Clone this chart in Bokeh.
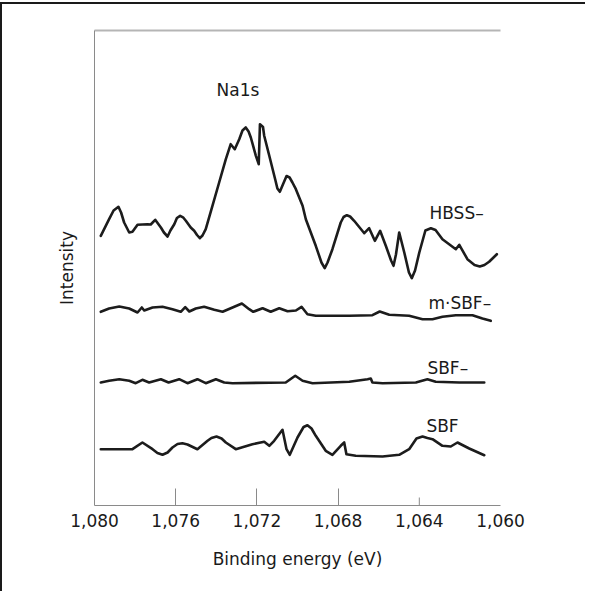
from bokeh.plotting import figure
from bokeh.models import Range1d, FixedTicker, NumeralTickFormatter, LinearAxis
from bokeh.core.properties import value
from bokeh.embed import file_html
from bokeh.resources import INLINE

# Binding energy (eV) and intensity (arbitrary units)
hbss_x = [1079.69, 1079.28, 1079.06, 1078.82, 1078.69, 1078.54, 1078.29, 1078.13, 1077.88, 1077.39,
          1077.23, 1077.01, 1076.73, 1076.58, 1076.40, 1076.26, 1076.07, 1075.94, 1075.78, 1075.64,
          1075.50, 1075.26, 1075.09, 1074.95, 1074.81, 1074.68, 1074.52, 1074.19, 1073.86, 1073.53,
          1073.29, 1073.09, 1072.87, 1072.71, 1072.55, 1072.41, 1072.30, 1072.05, 1071.91, 1071.85,
          1071.70, 1071.64, 1071.39, 1071.10, 1070.99, 1070.87, 1070.74, 1070.54, 1070.39, 1070.25,
          1070.08, 1069.75, 1069.59, 1069.10, 1068.82, 1068.66, 1068.52, 1068.28, 1067.87, 1067.73,
          1067.57, 1067.41, 1067.21, 1066.71, 1066.47, 1066.19, 1065.93, 1065.65, 1065.39, 1065.27,
          1065.15, 1064.99, 1064.74, 1064.51, 1064.37, 1064.21, 1064.00, 1063.70, 1063.43, 1063.20,
          1062.86, 1062.20, 1062.03, 1061.63, 1061.28, 1061.02, 1060.79, 1060.56, 1060.18]
hbss_y = [269.7, 286.3, 295.0, 298.7, 293.0, 283.0, 273.0, 273.7, 280.7, 281.3,
          281.0, 285.7, 278.0, 273.0, 269.0, 275.0, 281.3, 287.5, 289.7, 288.2,
          284.7, 278.0, 274.7, 270.5, 267.3, 270.0, 276.3, 299.7, 323.0, 346.3,
          361.3, 356.3, 366.3, 375.0, 378.0, 374.0, 368.0, 349.7, 341.3, 381.3,
          378.5, 369.7, 349.7, 326.3, 317.0, 313.7, 320.0, 329.5, 328.0, 323.0,
          316.3, 299.7, 286.3, 259.7, 243.0, 237.3, 243.0, 256.3, 283.0, 288.5,
          290.3, 289.0, 284.7, 272.3, 277.3, 264.7, 274.7, 259.7, 245.0, 239.7,
          251.0, 273.0, 253.0, 233.0, 227.3, 235.0, 253.0, 275.0, 277.3, 275.5,
          266.3, 256.3, 260.7, 246.3, 240.5, 239.0, 240.5, 243.7, 251.3]

msbf_x = [1079.69, 1079.28, 1078.78, 1078.29, 1077.88, 1077.67, 1077.55, 1077.14, 1076.65, 1076.16,
          1075.75, 1075.53, 1075.33, 1075.01, 1074.60, 1074.10, 1073.69, 1073.20, 1072.74, 1072.38,
          1072.18, 1071.72, 1071.32, 1070.90, 1070.49, 1070.08, 1069.80, 1069.51, 1069.10, 1067.45,
          1066.31, 1065.95, 1065.48, 1064.50, 1063.84, 1063.35, 1062.86, 1062.20, 1061.38, 1060.89,
          1060.48]
msbf_y = [193.7, 197.0, 199.0, 197.0, 193.0, 198.0, 195.0, 198.0, 198.7, 196.3,
          193.7, 198.3, 194.0, 197.0, 198.7, 195.7, 193.7, 198.0, 202.0, 196.3,
          193.7, 197.3, 193.7, 197.3, 194.3, 195.0, 198.7, 191.3, 189.7, 189.7,
          190.3, 194.0, 190.7, 189.7, 186.3, 186.3, 188.7, 190.3, 190.3, 187.0,
          184.7]

sbfm_x = [1079.69, 1079.28, 1078.78, 1078.29, 1077.97, 1077.64, 1077.31, 1076.73, 1076.35, 1075.83,
          1075.42, 1074.93, 1074.52, 1074.02, 1073.61, 1073.20, 1070.58, 1070.11, 1069.75, 1069.26,
          1067.45, 1066.55, 1066.39, 1066.31, 1065.81, 1064.17, 1063.60, 1063.19, 1062.03, 1060.80]
sbfm_y = [123.0, 124.7, 126.3, 124.7, 122.3, 125.7, 123.0, 126.3, 123.0, 126.3,
          122.3, 126.3, 122.3, 126.3, 123.0, 122.3, 123.0, 129.7, 124.7, 122.3,
          123.7, 126.3, 127.0, 123.0, 122.3, 123.0, 126.3, 123.7, 123.0, 123.0]

sbf_x = [1079.69, 1078.13, 1077.64, 1077.14, 1076.90, 1076.65, 1076.40, 1076.16, 1075.91, 1075.67,
         1075.42, 1074.93, 1074.43, 1074.24, 1073.99, 1073.74, 1073.53, 1073.04, 1072.22, 1071.64,
         1071.39, 1071.15, 1070.74, 1070.54, 1070.38, 1070.00, 1069.70, 1069.51, 1069.31, 1069.10,
         1068.61, 1068.28, 1067.87, 1067.70, 1067.59, 1067.13, 1065.81, 1064.99, 1064.50, 1064.14,
         1063.84, 1063.60, 1063.35, 1062.86, 1062.45, 1062.12, 1061.54, 1060.80]
sbf_y = [56.3, 56.3, 63.0, 56.3, 52.5, 50.7, 53.0, 58.0, 61.5, 62.3,
         61.0, 56.3, 64.7, 67.5, 69.0, 67.0, 63.0, 56.3, 61.3, 63.7,
         59.7, 64.7, 75.7, 56.3, 50.7, 68.0, 78.5, 80.3, 77.0, 69.7,
         54.7, 50.7, 59.7, 63.0, 51.3, 49.7, 49.0, 50.7, 56.3, 67.0,
         69.0, 67.5, 66.3, 59.7, 59.0, 63.0, 57.0, 50.3]

label_text = ["HBSS\u2013", "m\u00b7SBF\u2013", "SBF\u2013", "SBF", "Na1s"]
label_x = [1063.50, 1063.55, 1063.60, 1063.65, 1073.99]
label_y = [293, 203, 138, 80, 416]

tick_vals = [1080, 1076, 1072, 1068, 1064, 1060]

FONT = "DejaVu Sans"
AXC = "#8a8a8a"
INK = "#1c1c1c"

p = figure(width=585, height=589, output_backend="svg", toolbar_location=None,
           x_range=Range1d(1080, 1060), y_range=Range1d(0, 475),
           min_border_left=92, min_border_right=87, min_border_top=26, min_border_bottom=88)
p.styles = {"border-left": "2px solid #1a1a1a", "border-top": "2px solid #1a1a1a", "margin-top": "2px"}
p.outline_line_color = None
p.grid.visible = False
p.background_fill_color = "white"
p.border_fill_color = "white"

xa = p.xaxis[0]
xa.ticker = FixedTicker(ticks=tick_vals, minor_ticks=[1076, 1072, 1068])
xa.formatter = NumeralTickFormatter(format="0,0")
xa.axis_line_color = AXC
xa.axis_line_width = 1
xa.major_tick_in = 0
xa.major_tick_out = 0
xa.minor_tick_in = 17
xa.minor_tick_out = 0
xa.minor_tick_line_color = AXC
xa.major_label_text_font = FONT
xa.major_label_text_font_size = "17px"
xa.major_label_text_color = "#1a1a1a"
xa.major_label_standoff = 8
xa.axis_label = "Binding energy (eV)"
xa.axis_label_text_font = FONT
xa.axis_label_text_font_size = "17px"
xa.axis_label_text_font_style = "normal"
xa.axis_label_text_color = "#1a1a1a"
xa.axis_label_standoff = 19

ya = p.yaxis[0]
ya.ticker = FixedTicker(ticks=[])
ya.axis_line_color = AXC
ya.axis_line_width = 1
ya.major_tick_line_color = None
ya.minor_tick_line_color = None
ya.major_label_text_font_size = "0px"
ya.axis_label = "Intensity"
ya.axis_label_text_font = FONT
ya.axis_label_text_font_size = "17px"
ya.axis_label_text_font_style = "normal"
ya.axis_label_text_color = "#1a1a1a"
ya.axis_label_standoff = 18

top = LinearAxis(ticker=FixedTicker(ticks=[]), axis_line_color="#b5b5b5", axis_line_width=2,
                 major_tick_line_color=None, minor_tick_line_color=None,
                 major_label_text_font_size="0px")
p.add_layout(top, "above")

# short tick at 1,064
p.segment(x0=[1064], y0=[0], x1=[1064], y1=[8], line_color=AXC, line_width=1)

for xs, ys in [(hbss_x, hbss_y), (msbf_x, msbf_y), (sbfm_x, sbfm_y), (sbf_x, sbf_y)]:
    p.line(xs, ys, line_color=INK, line_width=2.6, line_join="round", line_cap="round")

p.text(x=label_x, y=label_y, text=label_text, text_font=value(FONT), text_font_size="17px",
       text_color="#1a1a1a", text_baseline="middle", text_align="left")

open("out.html", "w").write(file_html(p, INLINE))
